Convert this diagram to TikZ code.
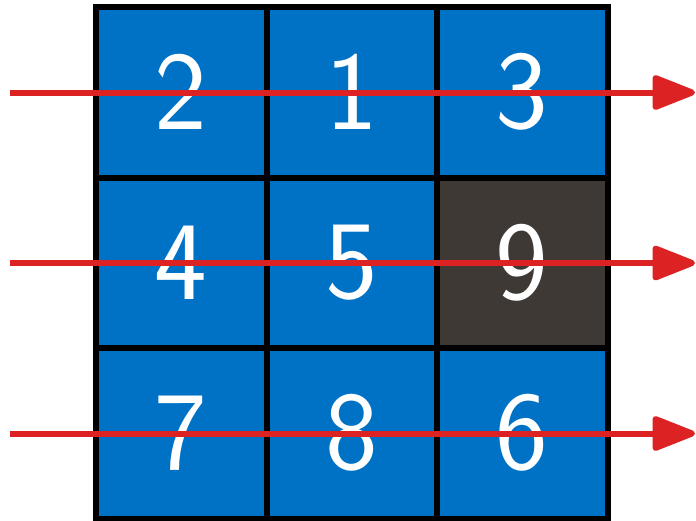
\documentclass[tikz,border=0pt]{standalone}
\usepackage{fontspec}
\usetikzlibrary{arrows.meta}
\definecolor{cellblue}{RGB}{0,114,198}
\definecolor{celldark}{RGB}{62,57,53}
\definecolor{arrowred}{RGB}{221,34,36}
\tikzset{
  cell/.style={draw=black, line width=6pt, fill=cellblue, minimum size=170.5pt, inner sep=0pt,
    text=white, font=\sffamily\fontsize{112}{112}\selectfont},
  darkcell/.style={cell, fill=celldark},
  rowarrow/.style={draw=arrowred, line width=6pt, -{Triangle[length=48pt,width=36pt,round]}}
}
\begin{document}
\begin{tikzpicture}[x=1pt,y=-1pt]
\useasboundingbox (0,0) rectangle (696,520);
\node[cell] (c11) at (181.25,92.25) {2};
\node[cell] (c12) at (351.75,92.25) {1};
\node[cell] (c13) at (522.25,92.25) {3};
\node[cell] (c21) at (181.25,262.75) {4};
\node[cell] (c22) at (351.75,262.75) {5};
\node[darkcell] (c23) at (522.25,262.75) {9};
\node[cell] (c31) at (181.25,433.25) {7};
\node[cell] (c32) at (351.75,433.25) {8};
\node[cell] (c33) at (522.25,433.25) {6};
\coordinate (s1) at (10,92.5);
\coordinate (e1) at (695,92.5);
\coordinate (s2) at (10,263);
\coordinate (e2) at (695,263);
\coordinate (s3) at (10,433.5);
\coordinate (e3) at (695,433.5);
\draw[rowarrow] (s1) -- (e1);
\draw[rowarrow] (s2) -- (e2);
\draw[rowarrow] (s3) -- (e3);
\end{tikzpicture}
\end{document}
